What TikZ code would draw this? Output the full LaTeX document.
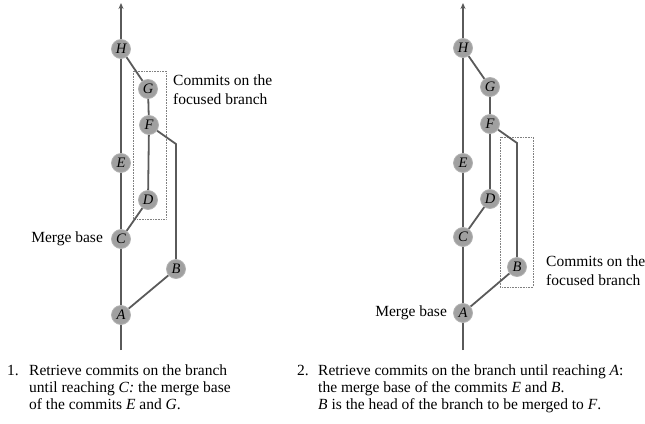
\documentclass[tikz,border=0pt]{standalone}
\usepackage{fontspec}
\setmainfont{Liberation Serif}
\usetikzlibrary{arrows.meta,backgrounds}
\definecolor{edgec}{HTML}{5A5A5A}
\definecolor{nodefill}{HTML}{A0A0A0}
\definecolor{nodeedge}{HTML}{B2B2B2}
\definecolor{boxc}{HTML}{808080}
\tikzset{
  commit/.style={circle,fill=nodefill,draw=nodeedge,line width=0.8pt,minimum size=19pt,inner sep=0pt,font=\fontsize{14.5}{16}\selectfont\itshape},
  edge/.style={draw=edgec,line width=1.8pt},
  uptip/.style={-{Stealth[length=6pt,width=5pt]}},
  focusbox/.style={draw=boxc,densely dotted,line width=0.6pt},
  lbl/.style={font=\fontsize{15.5}{19}\selectfont,inner sep=0pt,align=left},
  captext/.style={font=\fontsize{15.5}{17}\selectfont,inner sep=0pt,anchor=base west},
}
\begin{document}
\begin{tikzpicture}[x=1pt,y=-1pt]
\useasboundingbox (0,0) rectangle (645,423);
% ---------- left diagram ----------
\begin{scope}
\node[commit] (H1) at (121,49) {H};
\node[commit] (G1) at (148,89) {G};
\node[commit] (F1) at (149,125) {F};
\node[commit] (E1) at (121,163) {E};
\node[commit] (D1) at (148,200) {D};
\node[commit] (C1) at (121,239) {C};
\node[commit] (B1) at (176,269) {B};
\node[commit] (A1) at (121,315) {A};
\coordinate (top1) at (121,3);
\coordinate (bot1) at (121,350);
\coordinate (k1) at (176,144);
\node[lbl,anchor=east] (mb1) at ([xshift=-8pt]C1.west) {Merge base};
\node[lbl,anchor=west] (fb1) at (173,90) {Commits on the\\focused branch};
\begin{pgfonlayer}{background}
\draw[focusbox] (133,71) rectangle (166,219);
\draw[edge] (bot1) -- (A1);
\draw[edge] (A1) -- (C1);
\draw[edge] (C1) -- (E1);
\draw[edge] (E1) -- (H1);
\draw[edge,uptip] (H1) -- (top1);
\draw[edge] (C1) -- (D1);
\draw[edge] (D1) -- (F1);
\draw[edge] (F1) -- (G1);
\draw[edge] (G1) -- (H1);
\draw[edge] (A1) -- (B1);
\draw[edge] (B1) -- (k1) -- (F1);
\end{pgfonlayer}
\end{scope}
% ---------- right diagram ----------
\begin{scope}
\node[commit] (H2) at (463,48) {H};
\node[commit] (G2) at (490,87) {G};
\node[commit] (F2) at (490,124) {F};
\node[commit] (E2) at (463,163) {E};
\node[commit] (D2) at (490,199) {D};
\node[commit] (C2) at (463,237) {C};
\node[commit] (B2) at (517,267) {B};
\node[commit] (A2) at (463,313) {A};
\coordinate (top2) at (463,3);
\coordinate (bot2) at (463,350);
\coordinate (k2) at (517,143);
\node[lbl,anchor=east] (mb2) at ([xshift=-6pt]A2.west) {Merge base};
\node[lbl,anchor=west] (fb2) at (546,271) {Commits on the\\focused branch};
\begin{pgfonlayer}{background}
\draw[focusbox] (500,137) rectangle (533,287);
\draw[edge] (bot2) -- (A2);
\draw[edge] (A2) -- (C2);
\draw[edge] (C2) -- (E2);
\draw[edge] (E2) -- (H2);
\draw[edge,uptip] (H2) -- (top2);
\draw[edge] (C2) -- (D2);
\draw[edge] (D2) -- (F2);
\draw[edge] (F2) -- (G2);
\draw[edge] (G2) -- (H2);
\draw[edge] (A2) -- (B2);
\draw[edge] (B2) -- (k2) -- (F2);
\end{pgfonlayer}
\end{scope}
% ---------- captions ----------
\node[captext] (n1) at (7,375) {1.};
\node[captext] (c1a) at (29,375) {Retrieve commits on the branch};
\node[captext] (c1b) at (29,392) {until reaching \textit{C:} the merge base};
\node[captext] (c1c) at (29,409) {of the commits \textit{E} and \textit{G}.};
\node[captext] (n2) at (297,375) {2.};
\node[captext] (c2a) at (318,375) {Retrieve commits on the branch until reaching \textit{A}:};
\node[captext] (c2b) at (318,392) {the merge base of the commits \textit{E} and \textit{B}.};
\node[captext] (c2c) at (318,409) {\textit{B} is the head of the branch to be merged to \textit{F}.};
\end{tikzpicture}
\end{document}
